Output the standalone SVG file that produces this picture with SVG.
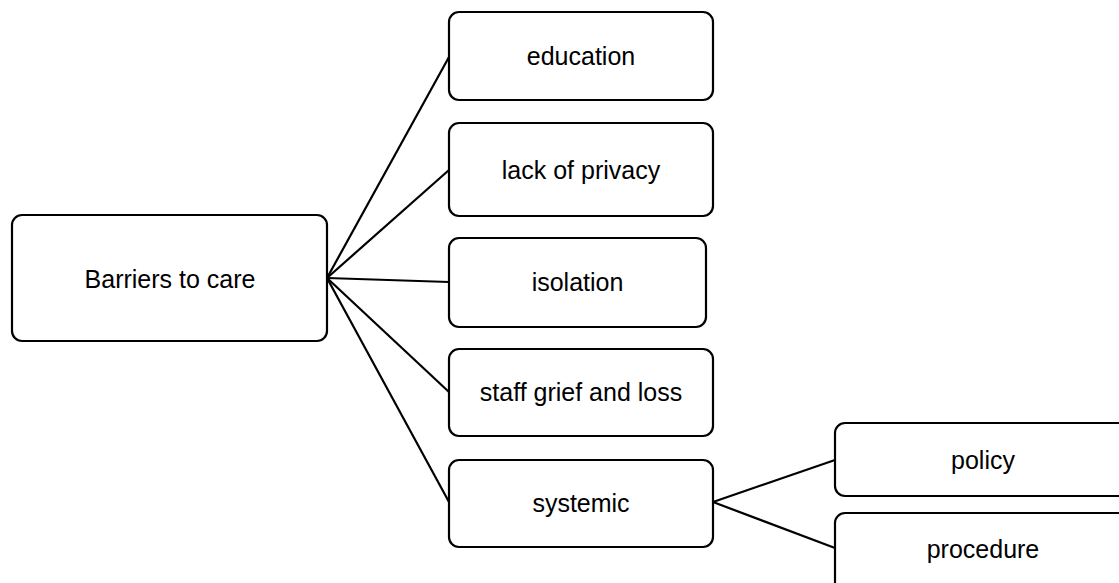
<svg xmlns="http://www.w3.org/2000/svg" width="1119" height="583" viewBox="0 0 1119 583">
  <style>
    .box { fill: #ffffff; stroke: #000000; stroke-width: 2.2; }
    .label { font-family: "Liberation Sans", Arial, sans-serif; font-size: 25px; fill: #000000; text-anchor: middle; dominant-baseline: central; }
    .link { stroke: #000000; stroke-width: 2.2; fill: none; }
  </style>
  <rect width="1119" height="583" fill="#ffffff"/>

  <!-- connectors -->
  <g id="connectors">
    <line class="link" x1="327" y1="278" x2="449" y2="57"/>
    <line class="link" x1="327" y1="278" x2="449" y2="170"/>
    <line class="link" x1="327" y1="278" x2="449" y2="282"/>
    <line class="link" x1="327" y1="278" x2="449" y2="392"/>
    <line class="link" x1="327" y1="278" x2="449" y2="502"/>
    <line class="link" x1="713" y1="502" x2="835" y2="460"/>
    <line class="link" x1="713" y1="502" x2="835" y2="548"/>
  </g>

  <g id="node-barriers">
    <rect class="box" x="12" y="215" width="315" height="126" rx="10"/>
    <text class="label" x="170" y="279">Barriers to care</text>
  </g>
  <g id="node-education">
    <rect class="box" x="449" y="12" width="264" height="88" rx="10"/>
    <text class="label" x="581" y="56">education</text>
  </g>
  <g id="node-privacy">
    <rect class="box" x="449" y="123" width="264" height="93" rx="10"/>
    <text class="label" x="581" y="170">lack of privacy</text>
  </g>
  <g id="node-isolation">
    <rect class="box" x="449" y="238" width="257" height="89" rx="10"/>
    <text class="label" x="577.5" y="282">isolation</text>
  </g>
  <g id="node-staff-grief">
    <rect class="box" x="449" y="349" width="264" height="87" rx="10"/>
    <text class="label" x="581" y="392">staff grief and loss</text>
  </g>
  <g id="node-systemic">
    <rect class="box" x="449" y="460" width="264" height="87" rx="10"/>
    <text class="label" x="581" y="503">systemic</text>
  </g>
  <g id="node-policy">
    <rect class="box" x="835" y="423" width="300" height="73" rx="10"/>
    <text class="label" x="983" y="460">policy</text>
  </g>
  <g id="node-procedure">
    <rect class="box" x="835" y="513" width="300" height="90" rx="10"/>
    <text class="label" x="983" y="549">procedure</text>
  </g>
</svg>
